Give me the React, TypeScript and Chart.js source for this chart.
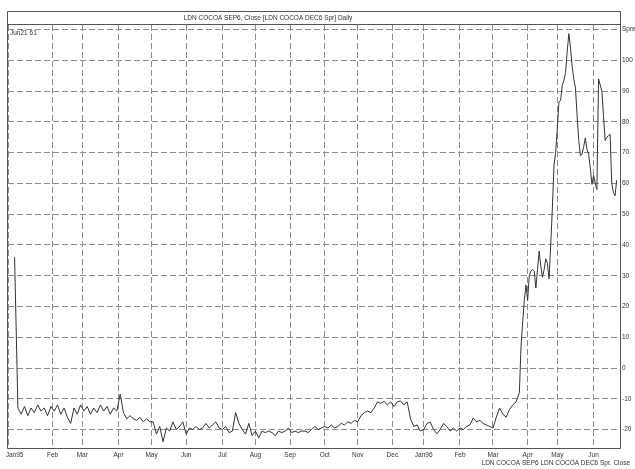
import React, { useEffect, useRef } from "react";
import { Chart, registerables } from "chart.js";

Chart.register(...registerables);

// ---- Data (trading-day index on x, spread value on y) ----
// Jan95 .. Mar96: one reading every 2 trading days, starting at day 4
const SEG1_START_DAY = 4;
const SEG1_STEP = 2;
const spreadJan95toMar96 = [
  36, -13, -15, -12.5, -15.5, -13, -14.5, -12, -14, -13, -15.5, // Jan95
  -12.5, -14, -12, -15, -13, -16, -18, -13, -15, -12, // Feb
  -14, -12.5, -15, -13, -14.5, -12, -14, -12.5, -15, -13, -14, // Mar
  -8.5, -14.5, -16.5, -15.5, -16.5, -17, -16, -17.5, -16.5, -17.5, // Apr
  -17.5, -21.5, -19, -24, -19.5, -20.5, -17.5, -20, -19, -17.5, // May
  -21.5, -19.5, -20, -19, -20, -19.5, -18, -19.5, -18.5, -17.5, -19.5, // Jun
  -20, -19, -21, -20.5, -14.5, -18, -20, -21.5, -18, -22, // Jul
  -20.5, -22.7, -20.5, -21, -20.5, -21, -22, -20.5, -21, -20.5, // Aug
  -19.5, -21, -20.5, -21, -20.5, -20.5, -21, -20, -19, -20, -19.5, // Sep
  -19, -19.5, -18.5, -19.5, -19, -18, -18.5, -17.5, -18, -17, // Oct
  -17.5, -15.5, -14.5, -14, -14.5, -13, -11, -11.5, -10.8, -12, // Nov
  -11, -12.5, -11, -10.7, -12, -11, -16.5, -19, -18.5, -20.5, // Dec
  -20, -18, -17.6, -20, -21.4, -20, -18, -19, -20.5, -19.5, -20.5, // Jan96
  -19.5, -20, -19, -18.5, -16.3, -17.5, -17, -18, -18.5, -19, // Feb
  -19.5, -16, -13, -15, -16, -13.5, -12, -11, // Mar
];
// Mar96 .. Jun96 rally: one reading per trading day, starting at day 310
const SEG2_START_DAY = 310;
const spreadRally = [
  -8, 7, 15, 22, 27, 22, 30, 31.5, 32, 31.5, 26, 32, 38, 33, 29.5, 32, 35.5, 34,
  29, 40, 52, 66, 70, 78, 86.5, 87, 92, 93.5, 96, 103, 108.7, 104, 98, 94, 91,
  82, 74, 69, 69.5, 72, 74.8, 71, 69.5, 65, 59.7, 62.6, 60, 58, 94, 92, 90, 82,
  74, 75, 75.5, 76, 60, 57, 56, 61,
];

const monthTickDays = [0, 27, 45, 67, 87, 108, 130, 150, 171, 192, 212, 233, 252, 274, 294, 315, 333, 355];
const monthTickLabels = ["Jan95", "Feb", "Mar", "Apr", "May", "Jun", "Jul", "Aug", "Sep", "Oct", "Nov", "Dec", "Jan96", "Feb", "Mar", "Apr", "May", "Jun"];
const FIRST_LABEL_DAY = 4; // "Jan95" label sits just right of the left edge
const yTickValues = [-20, -10, 0, 10, 20, 30, 40, 50, 60, 70, 80, 90, 100, 110];

const TITLE = "LDN COCOA SEP6, Close [LDN COCOA DEC6 Spr] Daily";
const LAST_LABEL = "Jun21 61";
const FOOTER = "LDN COCOA SEP6 LDN COCOA DEC6 Spr. Close";
const Y_AXIS_NAME = "Spread";

const FONT = "'Liberation Sans', Arial, sans-serif";
const TEXT = "#333";
const GRID = "#8c8c8c";
const LINE = "#333";

export default function App() {
  const ref = useRef<HTMLCanvasElement | null>(null);

  useEffect(() => {
    if (!ref.current) return;
    const points = [
      ...spreadJan95toMar96.map((v, k) => ({ x: SEG1_START_DAY + SEG1_STEP * k, y: v })),
      ...spreadRally.map((v, k) => ({ x: SEG2_START_DAY + k, y: v })),
    ];

    const framePlugin = {
      id: "frame",
      afterDraw(chart: any) {
        const { ctx, chartArea } = chart;
        const { left, right, top, bottom } = chartArea;
        ctx.save();
        ctx.strokeStyle = "#555";
        ctx.lineWidth = 1;
        ctx.setLineDash([]);
        ctx.beginPath();
        ctx.moveTo(left - 0.5, 11.5);
        ctx.lineTo(right + 0.5, 11.5);
        ctx.lineTo(right + 0.5, bottom + 0.5);
        ctx.lineTo(left - 0.5, bottom + 0.5);
        ctx.closePath();
        ctx.moveTo(left - 0.5, top - 0.5);
        ctx.lineTo(right + 0.5, top - 0.5);
        ctx.stroke();
        ctx.fillStyle = TEXT;
        ctx.font = `6.5px ${FONT}`;
        ctx.textBaseline = "middle";
        ctx.textAlign = "center";
        ctx.fillText(TITLE, 268, 18);
        ctx.textAlign = "left";
        ctx.fillText(LAST_LABEL, left + 2, 33);
        ctx.textAlign = "right";
        ctx.fillText(FOOTER, 630, 463);
        ctx.restore();
      },
    };

    const chart = new Chart(ref.current, {
      type: "line",
      data: {
        datasets: [
          {
            data: points,
            borderColor: LINE,
            borderWidth: 1,
            pointRadius: 0,
            tension: 0,
            fill: false,
          },
        ],
      },
      options: {
        animation: false,
        responsive: false,
        devicePixelRatio: 1,
        layout: { padding: { top: 25, left: 8, right: 0, bottom: 0 } },
        plugins: { legend: { display: false }, tooltip: { enabled: false }, title: { display: false } },
        scales: {
          x: {
            type: "linear",
            min: 0,
            max: 371,
            afterBuildTicks: (scale: any) => {
              scale.ticks = [...monthTickDays, FIRST_LABEL_DAY].sort((a, b) => a - b).map((v) => ({ value: v }));
            },
            afterFit: (scale: any) => {
              scale.height = 21;
              scale.paddingLeft = 0;
              scale.paddingRight = 0;
            },
            ticks: {
              autoSkip: false,
              maxRotation: 0,
              padding: 3,
              color: TEXT,
              font: { family: FONT, size: 6.5 },
              callback: (value: any) => {
                if (value === FIRST_LABEL_DAY) return monthTickLabels[0];
                const i = monthTickDays.indexOf(value);
                return i > 0 ? monthTickLabels[i] : "";
              },
            },
            grid: {
              drawTicks: false,
              color: (c: any) => (c.tick && c.tick.value === FIRST_LABEL_DAY ? "rgba(0,0,0,0)" : GRID),
              lineWidth: 1,
            },
            border: { display: false, dash: [6, 3] },
          },
          y: {
            position: "right",
            min: -26,
            max: 111.5,
            afterBuildTicks: (scale: any) => {
              scale.ticks = yTickValues.map((v) => ({ value: v }));
            },
            afterFit: (scale: any) => {
              scale.width = 15;
              scale.paddingTop = 0;
              scale.paddingBottom = 0;
            },
            ticks: {
              padding: 2,
              color: TEXT,
              font: { family: FONT, size: 6.5 },
              callback: (value: any) => (value === 110 ? Y_AXIS_NAME : String(value)),
            },
            grid: { drawTicks: false, color: GRID, lineWidth: 1 },
            border: { display: false, dash: [6, 3] },
          },
        },
      },
      plugins: [framePlugin],
    });
    return () => chart.destroy();
  }, []);

  return (
    <canvas
      ref={ref}
      width={635}
      height={469}
      style={{ position: "fixed", left: 0, top: 0, width: 635, height: 469, background: "#fff" }}
    />
  );
}
